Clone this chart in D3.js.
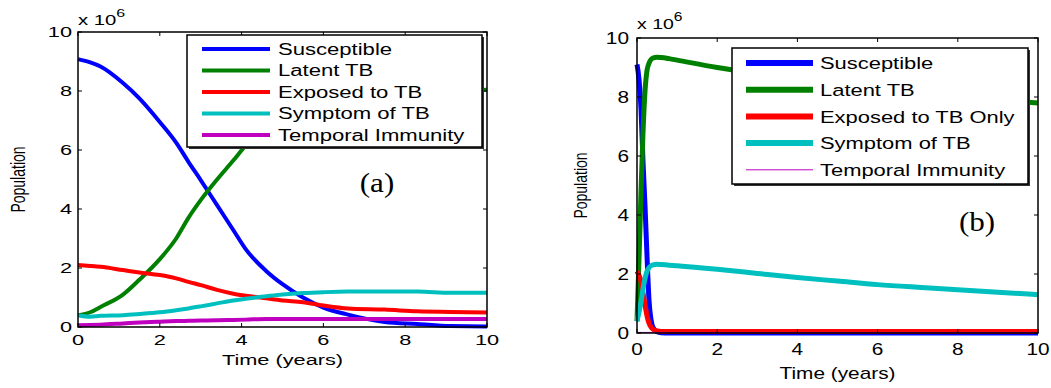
<!DOCTYPE html>
<html>
<head>
<meta charset="utf-8">
<script src="https://cdn.jsdelivr.net/npm/d3@7"></script>
<style>
  body { margin: 0; background: #fff; }
  svg text { font-family: "Liberation Sans", Arial, sans-serif; }
</style>
</head>
<body>
<div id="chart"></div>
<script>
// values in millions
const xTicks = [0, 2, 4, 6, 8, 10];
const yTicks = [0, 2, 4, 6, 8, 10];

const timeA = [0, 0.3, 0.55, 1.1, 1.5, 2, 2.4, 2.7, 3, 3.4, 3.8, 4.1, 4.6, 5, 5.5, 6, 6.6, 7.5, 8.3, 9.1, 10];
const susceptibleA = [9.08, 8.97, 8.83, 8.27, 7.75, 6.95, 6.25, 5.6, 4.98, 4.13, 3.28, 2.64, 1.9, 1.45, 1.0, 0.66, 0.42, 0.17, 0.1, 0.03, 0.02];
const latentA = [0.4, 0.5, 0.68, 1.1, 1.6, 2.3, 3.0, 3.7, 4.3, 5.0, 5.65, 6.15, 6.7, 7.0, 7.3, 7.5, 7.7, 7.85, 7.95, 8.0, 8.04];
const exposedA = [2.1, 2.07, 2.04, 1.93, 1.85, 1.76, 1.65, 1.53, 1.42, 1.26, 1.13, 1.06, 0.97, 0.9, 0.84, 0.73, 0.63, 0.59, 0.53, 0.51, 0.49];
const symptomA = [0.4, 0.35, 0.38, 0.4, 0.44, 0.5, 0.57, 0.63, 0.7, 0.8, 0.9, 0.96, 1.04, 1.1, 1.15, 1.18, 1.2, 1.2, 1.2, 1.16, 1.16];
const immunityA = [0.06, 0.07, 0.08, 0.12, 0.15, 0.18, 0.2, 0.21, 0.22, 0.23, 0.24, 0.25, 0.27, 0.27, 0.27, 0.27, 0.27, 0.27, 0.27, 0.27, 0.27];

const timeB = [0, 0.05, 0.1, 0.15, 0.2, 0.25, 0.3, 0.35, 0.4, 0.5, 0.6, 0.8, 1, 2, 3, 4, 5, 6, 7, 8, 9, 10];
const susceptibleB = [9.1, 8.6, 7.6, 5.8, 4.3, 2.6, 1.1, 0.45, 0.18, 0.04, 0.01, 0, 0, 0, 0, 0, 0, 0, 0, 0, 0, 0];
const latentB = [0.4, 2.5, 4.8, 6.8, 8.2, 8.9, 9.15, 9.27, 9.32, 9.35, 9.34, 9.3, 9.25, 9.0, 8.8, 8.6, 8.45, 8.3, 8.15, 8.0, 7.9, 7.8];
const exposedB = [2.1, 1.95, 1.75, 1.35, 0.95, 0.58, 0.33, 0.2, 0.13, 0.07, 0.05, 0.05, 0.05, 0.05, 0.05, 0.05, 0.05, 0.05, 0.05, 0.05, 0.05, 0.05];
const symptomB = [0.4, 0.7, 1.05, 1.5, 1.85, 2.1, 2.22, 2.28, 2.31, 2.33, 2.32, 2.3, 2.28, 2.16, 2.02, 1.88, 1.76, 1.64, 1.55, 1.47, 1.38, 1.3];
const immunityB = [0.02, 0.02, 0.02, 0.02, 0.02, 0.02, 0.02, 0.02, 0.02, 0.02, 0.02, 0.02, 0.02, 0.02, 0.02, 0.02, 0.02, 0.02, 0.02, 0.02, 0.02, 0.02];

const namesA = ["Susceptible", "Latent TB", "Exposed to TB", "Symptom of TB", "Temporal Immunity"];
const namesB = ["Susceptible", "Latent TB", "Exposed to TB Only", "Symptom of TB", "Temporal Immunity"];
const colors = ["#0000ff", "#008000", "#ff0000", "#00bfbf", "#bf00bf"];

const width = 1051, height = 388;
const svg = d3.select("#chart").append("svg").attr("width", width).attr("height", height);

// the source figure is stretched sideways, so text gets a horizontal scale
function stext(parent, x, y, sx, size, anchor, str) {
    return parent.append("text")
        .attr("transform", "translate(" + x + "," + y + ") scale(" + sx + ",1)")
        .attr("text-anchor", anchor)
        .attr("font-size", size + "px")
        .text(str);
}

function drawPanel(p) {
    const x = d3.scaleLinear().domain([0, 10]).range([p.left, p.right]);
    const y = d3.scaleLinear().domain([0, 10]).range([p.bottom, p.top]);
    const g = svg.append("g");

    const line = d3.line().x(function(d) { return x(d[0]); }).y(function(d) { return y(d[1]); }).curve(d3.curveMonotoneX);
    p.series.forEach(function(vals, i) {
        const pts = p.time.map(function(t, j) { return [t, vals[j]]; });
        g.append("path")
            .attr("d", line(pts))
            .attr("fill", "none")
            .attr("stroke", colors[i])
            .attr("stroke-width", p.widths[i])
            .attr("stroke-linejoin", "round");
    });

    g.append("rect")
        .attr("x", p.left).attr("y", p.top)
        .attr("width", p.right - p.left).attr("height", p.bottom - p.top)
        .attr("fill", "none").attr("stroke", "#000").attr("stroke-width", 1.5);

    const tl = 4;
    xTicks.forEach(function(t) {
        g.append("line").attr("x1", x(t)).attr("x2", x(t)).attr("y1", p.bottom).attr("y2", p.bottom - tl).attr("stroke", "#000");
        g.append("line").attr("x1", x(t)).attr("x2", x(t)).attr("y1", p.top).attr("y2", p.top + tl).attr("stroke", "#000");
        stext(g, x(t), p.bottom + p.xlabOff, p.sx, p.tickFs, "middle", t);
    });
    yTicks.forEach(function(t) {
        g.append("line").attr("x1", p.left).attr("x2", p.left + tl).attr("y1", y(t)).attr("y2", y(t)).attr("stroke", "#000");
        g.append("line").attr("x1", p.right).attr("x2", p.right - tl).attr("y1", y(t)).attr("y2", y(t)).attr("stroke", "#000");
        stext(g, p.left - p.ylabOff, y(t) + p.tickFs * 0.36, p.sx, p.tickFs, "end", t);
    });

    const ex = stext(g, p.left, p.top - p.expOff, p.sx, p.tickFs - 1, "start", "");
    ex.append("tspan").text("x 10");
    ex.append("tspan").attr("dy", -8).attr("font-size", (p.tickFs - 4) + "px").text("6");

    stext(g, (p.left + p.right) / 2, p.bottom + p.titleOff, p.sx, p.tickFs, "middle", "Time (years)");
    g.append("text")
        .attr("transform", "translate(" + (p.left - p.popOff) + "," + ((p.top + p.bottom) / 2) + ") rotate(-90) scale(1," + p.sx + ")")
        .attr("text-anchor", "middle").attr("font-size", "14px").text("Population");

    const L = p.legend;
    g.append("rect").attr("x", L.x + 2).attr("y", L.y + 2).attr("width", L.w).attr("height", L.h).attr("fill", "#333");
    g.append("rect").attr("x", L.x).attr("y", L.y).attr("width", L.w).attr("height", L.h)
        .attr("fill", "#fff").attr("stroke", "#000").attr("stroke-width", 1.5);
    p.names.forEach(function(name, i) {
        const ry = L.y + L.first + i * L.step;
        g.append("line").attr("x1", L.x + L.l0).attr("x2", L.x + L.l1).attr("y1", ry).attr("y2", ry)
            .attr("stroke", colors[i]).attr("stroke-width", p.legendWidths[i]);
        stext(g, L.x + L.tx, ry + L.fs * 0.36, L.sx, L.fs, "start", name);
    });

    stext(g, p.tag[0], p.tag[1], 1.15, 27, "middle", p.tagText)
        .style("font-family", "'Liberation Serif', 'Times New Roman', serif");
}

drawPanel({
    left: 78, right: 487, top: 32, bottom: 327,
    time: timeA,
    series: [susceptibleA, latentA, exposedA, symptomA, immunityA],
    widths: [4, 4, 4, 4, 4],
    legendWidths: [4, 4, 4, 4, 4],
    names: namesA,
    sx: 1.45, tickFs: 15, xlabOff: 18, ylabOff: 6, titleOff: 38, expOff: 7, popOff: 53,
    legend: { x: 187, y: 35, w: 295, h: 112, first: 14, step: 21.5, l0: 15, l1: 83, tx: 91, fs: 16, sx: 1.38 },
    tag: [377, 192], tagText: "(a)"
});

drawPanel({
    left: 637, right: 1038, top: 38, bottom: 333,
    time: timeB,
    series: [susceptibleB, latentB, exposedB, symptomB, immunityB],
    widths: [5, 5, 5, 5, 1],
    legendWidths: [6, 6, 6, 6, 1],
    names: namesB,
    sx: 1.3, tickFs: 16, xlabOff: 22, ylabOff: 8, titleOff: 46, expOff: 9, popOff: 50,
    legend: { x: 732, y: 48, w: 296, h: 136, first: 15, step: 26.7, l0: 14, l1: 81, tx: 88, fs: 17, sx: 1.29 },
    tag: [977, 231], tagText: "(b)"
});
</script>
</body>
</html>
